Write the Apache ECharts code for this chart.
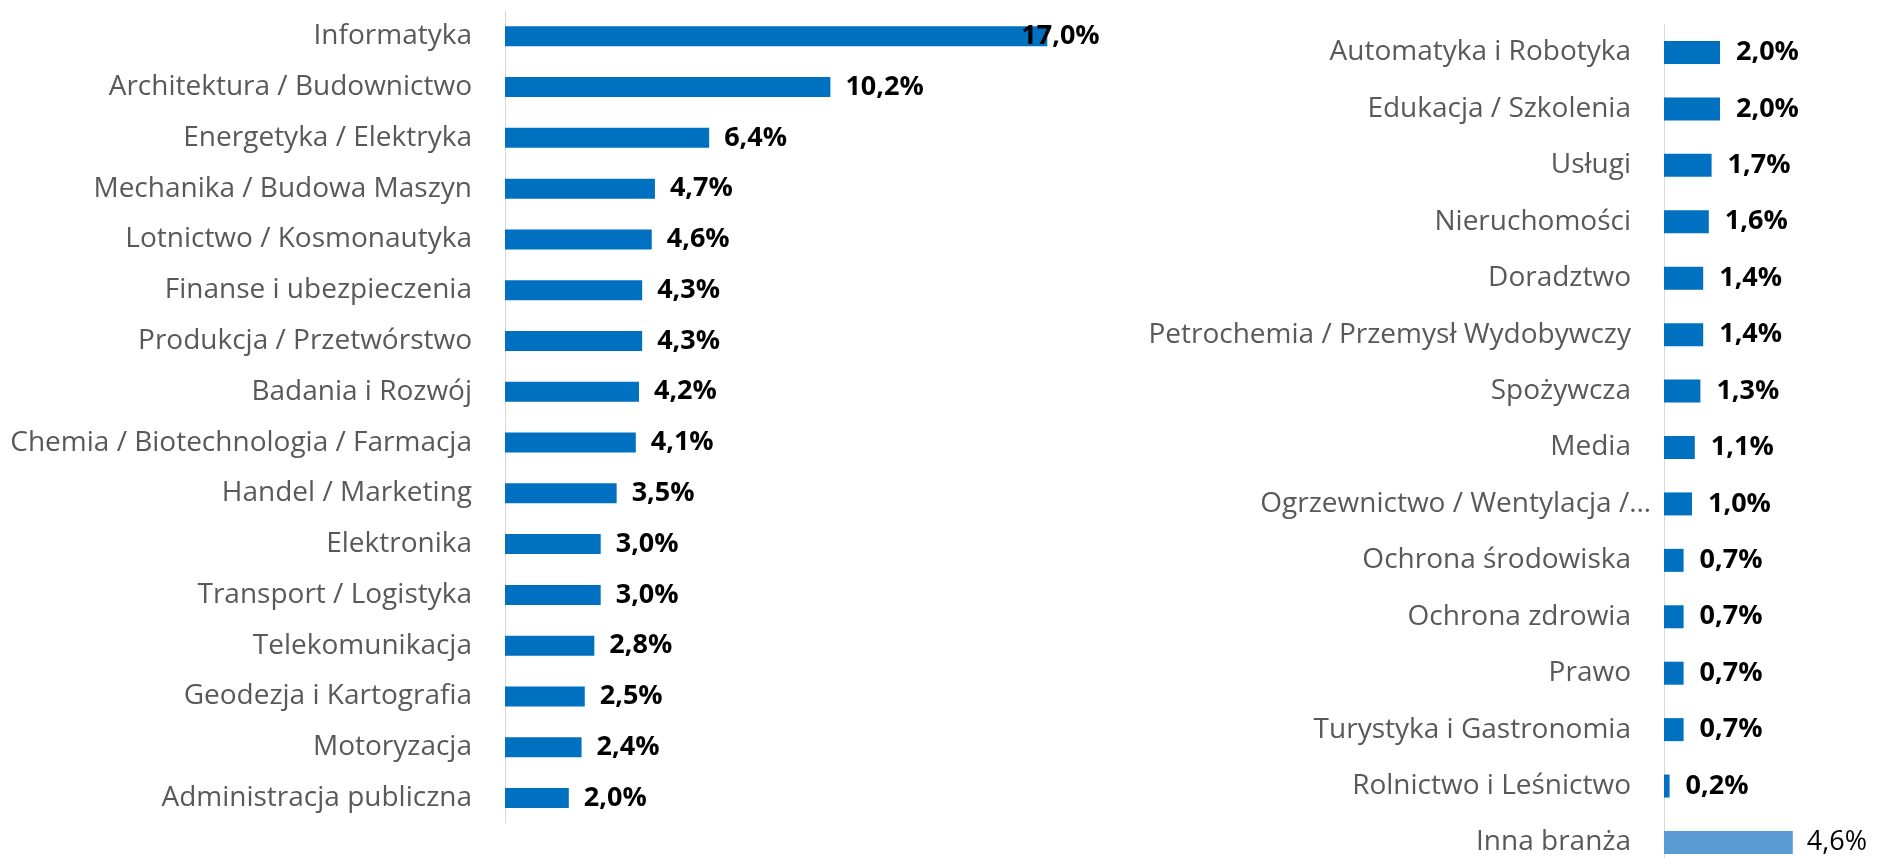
<!DOCTYPE html>
<html>
<head>
<meta charset="utf-8">
<script src="https://cdn.jsdelivr.net/npm/echarts@6/dist/echarts.min.js"></script>
<style>
html,body{margin:0;padding:0;background:#fff;}
#chart{width:1877px;height:858px;}
</style>
</head>
<body>
<div id="chart"></div>
<script>
const leftCategories = [
  'Informatyka', 'Architektura / Budownictwo', 'Energetyka / Elektryka', 'Mechanika / Budowa Maszyn',
  'Lotnictwo / Kosmonautyka', 'Finanse i ubezpieczenia', 'Produkcja / Przetwórstwo', 'Badania i Rozwój',
  'Chemia / Biotechnologia / Farmacja', 'Handel / Marketing', 'Elektronika', 'Transport / Logistyka',
  'Telekomunikacja', 'Geodezja i Kartografia', 'Motoryzacja', 'Administracja publiczna'
];
const leftValues = [17.0, 10.2, 6.4, 4.7, 4.6, 4.3, 4.3, 4.2, 4.1, 3.5, 3.0, 3.0, 2.8, 2.5, 2.4, 2.0];

const rightCategories = [
  'Automatyka i Robotyka', 'Edukacja / Szkolenia', 'Usługi', 'Nieruchomości', 'Doradztwo',
  'Petrochemia / Przemysł Wydobywczy', 'Spożywcza', 'Media', 'Ogrzewnictwo / Wentylacja /…',
  'Ochrona środowiska', 'Ochrona zdrowia', 'Prawo', 'Turystyka i Gastronomia',
  'Rolnictwo i Leśnictwo', 'Inna branża'
];
const rightValues = [2.0, 2.0, 1.7, 1.6, 1.4, 1.4, 1.3, 1.1, 1.0, 0.7, 0.7, 0.7, 0.7, 0.2, 4.6];

const FONT = '"Open Sans", Lato, sans-serif';
const BLUE = '#0070C0';
const LIGHT = '#5B9BD5';
const fmt = v => v.toFixed(1).replace('.', ',') + '%';

const chart = echarts.init(document.getElementById('chart'), null, {renderer: 'canvas'});

const catLabel = {
  color: '#595959', fontFamily: FONT, fontSize: 28, margin: 33
};

const leftData = leftValues.map((v, i) => {
  const d = {value: v};
  if (i === 0) d.label = {distance: -26};
  return d;
});
const rightData = rightValues.map((v, i) => {
  const d = {value: v};
  if (rightCategories[i] === 'Inna branża') {
    d.itemStyle = {color: LIGHT};
    d.label = {fontWeight: 'normal', distance: 14};
  }
  return d;
});

const option = {
  backgroundColor: '#fff',
  animation: false,
  grid: [
    {left: 505, width: 638, top: 10.9, height: 812.5, containLabel: false, outerBoundsMode: 'none'},
    {left: 1664, width: 196, top: 24.3, height: 846.4, containLabel: false, outerBoundsMode: 'none'}
  ],
  xAxis: [
    {gridIndex: 0, type: 'value', min: 0, max: 20, show: false},
    {gridIndex: 1, type: 'value', min: 0, max: 7, show: false}
  ],
  yAxis: [
    {
      gridIndex: 0, type: 'category', data: leftCategories, inverse: true,
      axisLine: {show: true, lineStyle: {color: '#d9d9d9', width: 1}},
      axisTick: {show: false}, axisLabel: catLabel, splitLine: {show: false}
    },
    {
      gridIndex: 1, type: 'category',
      data: rightCategories.map(c => c === 'Ogrzewnictwo / Wentylacja /…'
        ? {value: c, textStyle: {padding: [0, -20, 0, 0]}} : c),
      inverse: true,
      axisLine: {show: true, lineStyle: {color: '#d9d9d9', width: 1}},
      axisTick: {show: false}, axisLabel: catLabel, splitLine: {show: false}
    }
  ],
  series: [
    {
      type: 'bar', xAxisIndex: 0, yAxisIndex: 0, data: leftData, barWidth: 20,
      itemStyle: {color: BLUE},
      label: {show: true, position: 'right', distance: 15, formatter: p => fmt(p.value),
        color: '#000', fontWeight: 'bold', fontFamily: FONT, fontSize: 27}
    },
    {
      type: 'bar', xAxisIndex: 1, yAxisIndex: 1, data: rightData, barWidth: 23,
      itemStyle: {color: BLUE},
      label: {show: true, position: 'right', distance: 16, formatter: p => fmt(p.value),
        color: '#000', fontWeight: 'bold', fontFamily: FONT, fontSize: 27}
    }
  ]
};
chart.setOption(option);
</script>
</body>
</html>
